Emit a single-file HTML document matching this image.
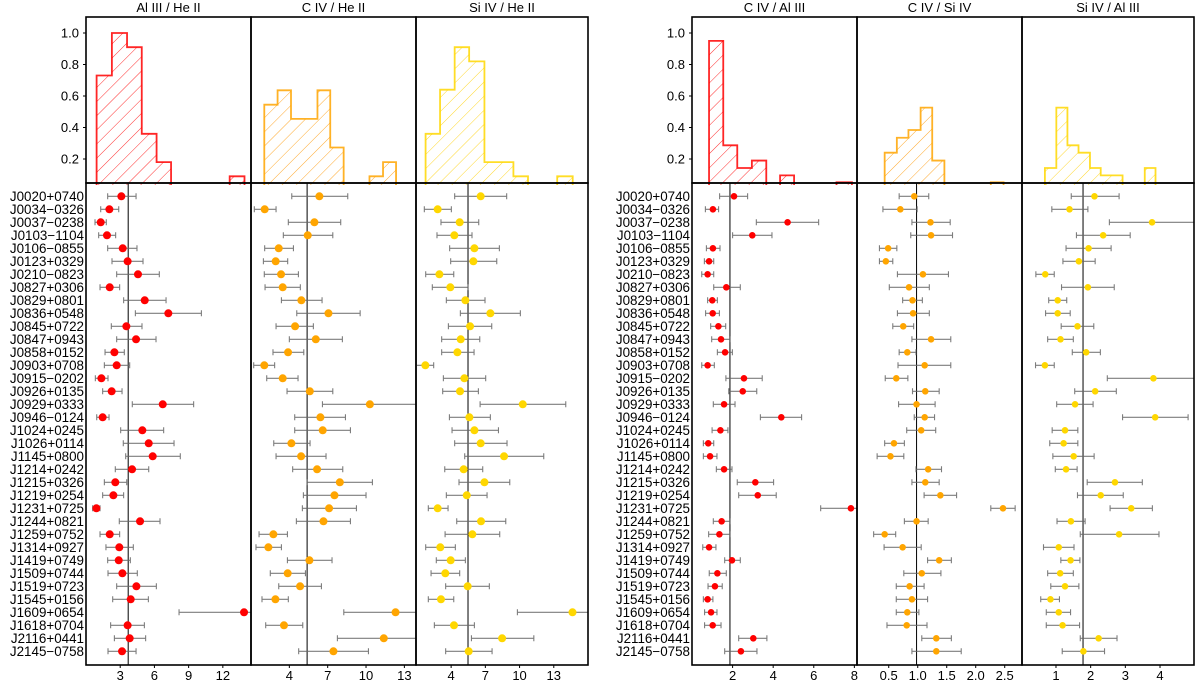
<!DOCTYPE html>
<html><head><meta charset="utf-8"><title>Line ratio distributions</title>
<style>
html,body{margin:0;padding:0;background:#fff;}
svg{display:block;font-family:"Liberation Sans","DejaVu Sans",sans-serif;}
</style></head>
<body>
<svg id="chart" width="1200" height="685" viewBox="0 0 1200 685" xmlns="http://www.w3.org/2000/svg">
<defs>
<pattern id="hatch-red" patternUnits="userSpaceOnUse" width="10" height="10" patternTransform="rotate(45)"><line x1="0" y1="0" x2="0" y2="10" stroke="#ff3030" stroke-width="1"/></pattern>
<pattern id="hatch-orange" patternUnits="userSpaceOnUse" width="10" height="10" patternTransform="rotate(45)"><line x1="0" y1="0" x2="0" y2="10" stroke="#ffaa30" stroke-width="1"/></pattern>
<pattern id="hatch-gold" patternUnits="userSpaceOnUse" width="10" height="10" patternTransform="rotate(45)"><line x1="0" y1="0" x2="0" y2="10" stroke="#ffd830" stroke-width="1"/></pattern>
</defs>
<g id="root"></g>
</svg>
<script>
const objectNames=["J0020+0740","J0034\u22120326","J0037\u22120238","J0103\u22121104","J0106\u22120855","J0123+0329","J0210\u22120823","J0827+0306","J0829+0801","J0836+0548","J0845+0722","J0847+0943","J0858+0152","J0903+0708","J0915\u22120202","J0926+0135","J0929+0333","J0946\u22120124","J1024+0245","J1026+0114","J1145+0800","J1214+0242","J1215+0326","J1219+0254","J1231+0725","J1244+0821","J1259+0752","J1314+0927","J1419+0749","J1509+0744","J1519+0723","J1545+0156","J1609+0654","J1618+0704","J2116+0441","J2145\u22120758"];

const alHeVal=[3.10,2.05,1.29,1.84,3.22,3.65,4.56,2.08,5.15,7.22,3.54,4.39,2.49,2.69,1.35,2.25,6.73,1.46,4.94,5.50,5.85,4.04,2.57,2.40,0.91,4.74,2.08,2.92,2.87,3.19,4.42,3.92,13.86,3.65,3.83,3.16];
const alHeLo=[1.90,1.29,0.79,1.11,1.90,2.28,2.69,1.23,3.30,4.33,2.22,2.69,1.67,1.61,0.82,1.46,4.06,0.94,3.04,3.27,3.48,2.57,1.61,1.46,0.58,2.92,1.23,1.75,1.90,1.93,2.69,2.34,8.16,2.16,2.49,1.93];
const alHeHi=[4.39,2.87,1.78,2.60,4.47,5.00,6.43,2.95,7.02,10.12,4.91,6.14,3.36,3.83,1.93,3.16,9.44,2.02,6.81,7.72,8.27,5.50,3.57,3.30,1.23,6.49,2.95,4.15,3.89,4.50,6.17,5.47,15.0,5.12,5.23,4.39];
const cHeVal=[6.35,2.07,5.96,5.44,3.17,2.93,3.35,3.48,4.94,7.06,4.45,6.07,3.90,2.04,3.48,5.60,10.30,6.43,6.61,4.16,4.92,6.17,7.95,7.53,7.11,6.67,2.75,2.36,5.57,3.87,4.84,2.91,12.31,3.58,11.39,7.45];
const cHeLo=[4.19,1.26,3.92,3.53,2.07,1.97,2.04,2.10,3.38,4.58,2.96,4.00,2.72,1.21,2.23,3.82,6.59,4.42,4.42,2.78,2.96,4.26,5.39,5.10,5.02,4.55,1.63,1.39,3.85,2.51,3.17,1.86,8.26,2.15,7.76,4.73];
const cHeHi=[8.57,2.96,8.02,7.40,4.32,3.87,4.71,4.86,6.56,9.54,5.88,8.15,5.13,2.85,4.68,7.40,14.5,8.39,8.78,5.62,6.87,8.18,10.5,10.0,9.25,8.78,3.85,3.38,7.34,5.26,6.51,3.92,14.5,5.05,14.5,10.19];
const siHeVal=[6.59,2.82,4.75,4.28,6.04,5.95,2.97,3.93,5.25,7.44,5.66,4.84,4.55,1.74,5.16,4.78,10.28,5.60,6.04,6.59,8.64,5.10,6.92,5.37,2.82,6.62,5.86,3.05,3.96,3.49,5.45,3.11,14.64,4.25,8.47,5.54];
const siHeLo=[4.31,1.65,3.11,2.76,3.87,3.96,1.77,2.35,3.58,4.81,3.76,3.17,3.17,0.85,3.32,3.26,6.54,3.85,4.08,4.31,5.19,3.44,4.69,3.58,2.00,4.49,3.47,1.77,2.70,2.24,3.52,2.00,9.81,2.53,5.78,3.52];
const siHeHi=[8.87,4.02,6.42,5.83,8.23,8.00,4.23,5.48,6.97,10.07,7.56,6.51,6.01,2.47,7.03,6.39,14.05,7.44,8.15,8.90,12.12,6.77,9.14,7.15,3.73,8.79,8.26,4.37,5.25,4.75,7.35,4.23,16.5,6.04,11.25,7.59];
const cAlVal=[2.07,1.03,4.71,2.97,1.03,0.84,0.77,1.69,1.00,1.02,1.30,1.43,1.63,0.77,2.56,2.50,1.58,4.40,1.40,0.80,0.89,1.58,3.12,3.24,7.83,1.46,1.35,0.84,1.97,1.25,1.13,0.77,0.94,1.02,3.02,2.41];
const cAlLo=[1.36,0.66,3.17,2.00,0.71,0.61,0.48,1.07,0.77,0.67,0.92,0.97,1.25,0.48,1.67,1.81,1.05,3.37,0.99,0.56,0.56,1.20,2.23,2.30,6.34,1.05,0.82,0.53,1.61,0.85,0.79,0.56,0.62,0.62,2.30,1.61];
const cAlHi=[2.74,1.31,6.24,3.94,1.38,1.07,1.07,2.38,1.25,1.35,1.66,1.86,1.99,1.10,3.46,3.19,2.12,5.40,1.77,1.07,1.23,1.97,4.02,4.15,8.5,1.86,1.86,1.18,2.38,1.69,1.49,1.03,1.23,1.43,3.69,3.20];
const cSiVal=[0.94,0.70,1.22,1.23,0.49,0.45,1.09,0.85,0.91,0.92,0.75,1.23,0.82,1.12,0.63,1.13,0.98,1.12,1.06,0.59,0.53,1.18,1.13,1.39,2.47,0.98,0.43,0.74,1.37,1.07,0.86,0.90,0.82,0.81,1.32,1.32];
const cSiLo=[0.68,0.40,0.90,0.88,0.34,0.34,0.65,0.51,0.74,0.65,0.57,0.90,0.68,0.66,0.44,0.91,0.67,0.94,0.81,0.43,0.30,0.97,0.90,1.11,2.26,0.77,0.24,0.42,1.17,0.76,0.63,0.63,0.63,0.47,1.07,0.90];
const cSiHi=[1.19,0.99,1.56,1.60,0.64,0.57,1.53,1.20,1.08,1.20,0.93,1.57,0.97,1.57,0.83,1.37,1.30,1.29,1.31,0.77,0.76,1.41,1.37,1.67,2.68,1.18,0.62,1.06,1.58,1.40,1.11,1.17,1.02,1.16,1.58,1.75];
const siAlVal=[2.11,1.39,3.77,2.36,1.94,1.66,0.69,1.92,1.05,1.05,1.62,1.13,1.87,0.68,3.81,2.13,1.55,3.86,1.26,1.22,1.51,1.29,2.70,2.29,3.17,1.43,2.82,1.08,1.42,1.12,1.26,0.84,1.08,1.19,2.23,1.79];
const siAlLo=[1.44,0.88,2.54,1.59,1.29,1.20,0.42,1.16,0.79,0.70,1.15,0.76,1.47,0.41,2.48,1.54,1.02,2.92,0.89,0.82,0.91,0.98,1.90,1.62,2.56,1.03,1.70,0.64,1.14,0.76,0.85,0.56,0.72,0.72,1.70,1.18];
const siAlHi=[2.82,1.92,5.2,3.14,2.59,2.13,0.95,2.68,1.31,1.41,2.09,1.50,2.28,0.95,5.2,2.74,2.07,4.81,1.63,1.63,2.10,1.61,3.49,2.94,3.78,1.84,3.97,1.52,1.69,1.50,1.66,1.10,1.42,1.68,2.76,2.40];

const medians=[3.70,5.39,5.48,1.87,0.98,1.78];

const h1Start=[0.93,2.27,3.60,4.89,6.19,12.6], h1End=[2.27,3.60,4.89,6.19,7.46,13.9], h1Val=[0.73,1.0,0.91,0.36,0.18,0.09];
const h2Start=[2.04,3.08,4.13,5.16,6.20,7.20,10.27,11.33], h2End=[3.08,4.13,5.16,6.20,7.20,8.25,11.33,12.35], h2Val=[0.545,0.636,0.455,0.455,0.636,0.273,0.09,0.18];
const h3Start=[1.76,3.03,4.31,5.58,6.92,8.19,9.46,13.3], h3End=[3.03,4.31,5.58,6.92,8.19,9.46,10.74,14.66], h3Val=[0.36,0.64,0.91,0.82,0.18,0.18,0.09,0.09];
const h4Start=[0.84,1.54,2.23,2.95,4.34,7.12], h4End=[1.54,2.23,2.95,3.66,5.03,7.88], h4Val=[0.95,0.287,0.143,0.19,0.096,0.052];
const h5Start=[0.43,0.64,0.84,1.05,1.25,2.26], h5End=[0.64,0.84,1.05,1.25,1.46,2.48], h5Val=[0.24,0.335,0.384,0.526,0.19,0.052];
const h6Start=[0.68,1.01,1.33,1.65,1.98,2.29,2.61,3.56], h6End=[1.01,1.33,1.65,1.98,2.29,2.61,2.92,3.87], h6Val=[0.143,0.526,0.287,0.24,0.143,0.096,0.096,0.143];

const histTicks=[0.2,0.4,0.6,0.8,1.0];
const tick1=[3,6,9,12], tick2=[4,7,10,13], tick3=[4,7,10,13], tick4=[2,4,6,8], tick5=[0.5,1.0,1.5,2.0,2.5], tick6=[1,2,3,4];
const tickLab5=["0.5","1.0","1.5","2.0","2.5"];

const NS="http://www.w3.org/2000/svg";
const root=document.getElementById('root');
function mk(tag,attrs,parent){const e=document.createElementNS(NS,tag);for(const k in attrs)e.setAttribute(k,attrs[k]);(parent||root).appendChild(e);return e;}

const TOP=17, MID=183, BOT=665;
const hy0=190.5, hk=157.5;
function hy(v){return hy0-v*hk;}
const ROW0=196.3, ROWS=13;
function ry(i){return ROW0+i*ROWS;}

const panels=[
 {key:"al-he",title:"Al III / He II",x0:86,x1:251,d0:0,d1:14.47,color:"#ff0000",hatch:"hatch-red",val:alHeVal,lo:alHeLo,hi:alHeHi,hs:h1Start,he:h1End,hv:h1Val,ticks:tick1,r:4},
 {key:"c-he",title:"C IV / He II",x0:251,x1:416,d0:1,d1:13.91,color:"#ffa500",hatch:"hatch-orange",val:cHeVal,lo:cHeLo,hi:cHeHi,hs:h2Start,he:h2End,hv:h2Val,ticks:tick2,r:4},
 {key:"si-he",title:"Si IV / He II",x0:416,x1:588,d0:0.92,d1:16.0,color:"#ffd700",hatch:"hatch-gold",val:siHeVal,lo:siHeLo,hi:siHeHi,hs:h3Start,he:h3End,hv:h3Val,ticks:tick3,r:4},
 {key:"c-al",title:"C IV / Al III",x0:692,x1:857,d0:0,d1:8.13,color:"#ff0000",hatch:"hatch-red",val:cAlVal,lo:cAlLo,hi:cAlHi,hs:h4Start,he:h4End,hv:h4Val,ticks:tick4,r:3.3},
 {key:"c-si",title:"C IV / Si IV",x0:857,x1:1022,d0:-0.047,d1:2.798,color:"#ffa500",hatch:"hatch-orange",val:cSiVal,lo:cSiLo,hi:cSiHi,hs:h5Start,he:h5End,hv:h5Val,ticks:tick5,labels:tickLab5,r:3.3},
 {key:"si-al",title:"Si IV / Al III",x0:1022,x1:1194,d0:0.02,d1:4.98,color:"#ffd700",hatch:"hatch-gold",val:siAlVal,lo:siAlLo,hi:siAlHi,hs:h6Start,he:h6End,hv:h6Val,ticks:tick6,r:3.3}
];

panels.forEach((p,pi)=>{
  const sx=v=>p.x0+(v-p.d0)/(p.d1-p.d0)*(p.x1-p.x0);
  const g=mk('g',{});
  
  
  const cid='clip-'+p.key;
  const cp=mk('clipPath',{id:cid},g);
  mk('rect',{x:p.x0,y:TOP,width:p.x1-p.x0,height:BOT-TOP},cp);

  const t=mk('text',{x:(p.x0+p.x1)/2,y:12,'text-anchor':'middle','font-size':13,fill:'#000'},g);
  
  
  t.textContent=p.title;

  const hg=mk('g',{'clip-path':'url(#'+cid+')'},g);
  
  
  let d='';
  for(let i=0;i<p.hs.length;i++){
    const xs=sx(p.hs[i]), xe=sx(p.he[i]), yh=hy(p.hv[i]);
    const contPrev=i>0 && Math.abs(p.hs[i]-p.he[i-1])<1e-6;
    const contNext=i<p.hs.length-1 && Math.abs(p.hs[i+1]-p.he[i])<1e-6;
    if(!contPrev) d+='M'+xs+' '+(MID+2)+' ';
    d+='L'+xs+' '+yh+' L'+xe+' '+yh+' ';
    if(!contNext) d+='L'+xe+' '+(MID+2)+' ';
  }
  const hp=mk('path',{d:d,fill:'url(#'+p.hatch+')',stroke:p.color,'stroke-width':1.8,'stroke-opacity':0.85},hg);
  
  

  const ml=mk('line',{x1:sx(medians[pi]),x2:sx(medians[pi]),y1:MID,y2:BOT,stroke:'#000','stroke-width':1},g);
  
  

  const pg=mk('g',{'clip-path':'url(#'+cid+')'},g);
  
  
  p.val.forEach((v,i)=>{
    const y=ry(i), xl=sx(p.lo[i]), xh=sx(p.hi[i]);
    const eb=mk('path',{d:'M'+xl+' '+y+' L'+xh+' '+y+' M'+xl+' '+(y-3)+' L'+xl+' '+(y+3)+' M'+xh+' '+(y-3)+' L'+xh+' '+(y+3),stroke:'#666','stroke-width':1.1,'stroke-opacity':0.85,fill:'none'},pg);
    
    
    const c=mk('circle',{cx:sx(v),cy:y,r:p.r,fill:p.color},pg);
    
    
  });

  const f1=mk('rect',{x:p.x0,y:TOP,width:p.x1-p.x0,height:MID-TOP,fill:'none',stroke:'#000','stroke-width':1.6},g);
  
  
  const f2=mk('rect',{x:p.x0,y:MID,width:p.x1-p.x0,height:BOT-MID,fill:'none',stroke:'#000','stroke-width':1.6},g);
  
  

  p.ticks.forEach((tv,ti)=>{
    const x=sx(tv);
    mk('line',{x1:x,x2:x,y1:BOT,y2:BOT+3,stroke:'#000','stroke-width':1},g);
    const tl=mk('text',{x:x,y:680,'text-anchor':'middle','font-size':13,fill:'#000'},g);
    
    
    tl.textContent=p.labels?p.labels[ti]:String(tv);
  });

  if(pi===0||pi===3){
    histTicks.forEach(hv=>{
      const y=hy(hv);
      mk('line',{x1:p.x0-3,x2:p.x0,y1:y,y2:y,stroke:'#000','stroke-width':1},g);
      const yl=mk('text',{x:p.x0-7,y:y+4.5,'text-anchor':'end','font-size':13,fill:'#000'},g);
      
      
      yl.textContent=hv.toFixed(1);
    });
    objectNames.forEach((n,i)=>{
      const nl=mk('text',{x:p.x0-2,y:ry(i)+4.7,'text-anchor':'end','font-size':13.4,fill:'#000'},g);
      
      
      nl.textContent=n;
    });
  }
});
</script>
</body></html>
